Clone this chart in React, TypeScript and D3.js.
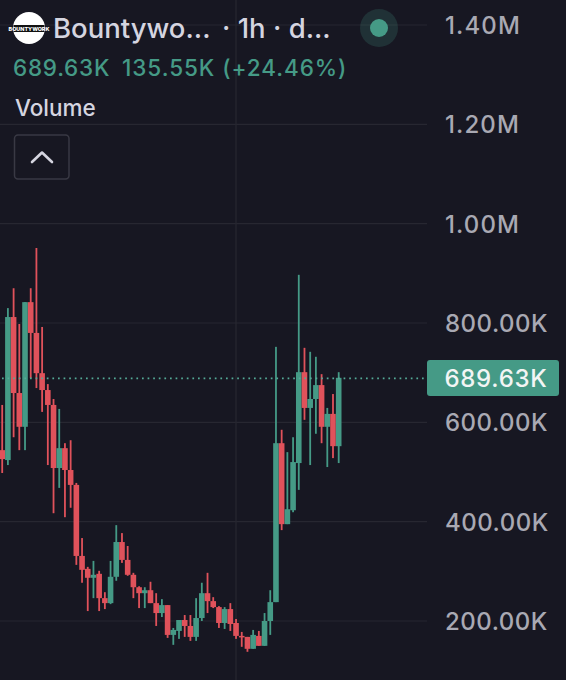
import React from "react";
import * as d3 from "d3";

const WIDTH = 566;
const HEIGHT = 680;

// Prices in thousands.
const opens = [544,524,812,659,591,842,780,699,665,635,508,548,504,474,331,305,287,295,246,236,289,359,323,293,268,256,262,236,216,232,172,180,202,190,168,206,256,240,228,196,224,196,170,168,144,170,150,200,238,558,395,423,518,701,629,647,675,591,617,552];
const highs = [635,830,870,798,842,870,951,792,677,647,627,558,564,478,367,309,321,301,258,321,393,377,351,297,270,268,279,256,244,232,186,202,212,212,246,277,297,248,230,228,236,204,178,168,182,180,216,262,752,585,540,570,897,750,742,732,697,629,657,701];
const lows = [498,514,570,544,544,689,669,621,514,417,468,409,428,313,277,220,246,220,224,234,281,317,291,246,226,226,236,190,208,166,152,164,168,160,160,200,216,226,186,184,180,164,148,138,144,150,150,172,238,383,395,419,464,605,514,577,558,510,528,518];
const closes = [526,812,659,591,842,780,699,665,635,508,548,504,474,331,303,287,293,246,236,289,359,323,293,268,256,262,236,216,232,172,182,202,190,168,206,256,240,228,196,224,194,170,168,144,172,150,200,238,558,395,425,520,701,629,647,675,591,617,552,689.63];

const axisTicks = [200, 400, 600, 800, 1000, 1200, 1400];
const axisLabels = ["200.00K", "400.00K", "600.00K", "800.00K", "1.00M", "1.20M", "1.40M"];
const lastPrice = 689.63;
const lastLabel = "689.63K";
const titleName = "Bountywo...";
const titleRest = "· 1h · d...";
const statPrice = "689.63K";
const statChange = "135.55K (+24.46%)";
const indicatorName = "Volume";
const logoText = "BOUNTYWORK";

const BG = "#171722";
const GREEN = "#459a86";
const RED = "#e0525b";
const GRID = "#272731";
const FONT = "Inter, 'Noto Sans', sans-serif";

const y = d3.scaleLinear().domain([200, 1400]).range([621, 25]);
const x = d3.scaleLinear().domain([0, opens.length - 1]).range([2.2, 338.7]);

export default function App() {
  return (
    <svg
      width={WIDTH}
      height={HEIGHT}
      viewBox={`0 0 ${WIDTH} ${HEIGHT}`}
      style={{ position: "fixed", left: 0, top: 0, display: "block", background: BG }}
      fontFamily={FONT}
      fontWeight={500}
    >
      {axisTicks.map((t) => (
        <line key={t} x1={0} x2={427} y1={y(t)} y2={y(t)} stroke={GRID} strokeWidth={1.2} />
      ))}
      <line x1={236} x2={236} y1={0} y2={HEIGHT} stroke={GRID} strokeWidth={1.2} />

      {opens.map((o, i) => {
        const c = closes[i];
        const col = c >= o ? GREEN : RED;
        const top = y(Math.max(o, c));
        const bot = y(Math.min(o, c));
        return (
          <g key={i} fill={col}>
            <rect x={x(i) - 0.9} width={1.8} y={y(highs[i])} height={y(lows[i]) - y(highs[i])} />
            <rect x={x(i) - 2.8} width={5.6} y={top} height={Math.max(bot - top, 1.5)} />
          </g>
        );
      })}

      <line
        x1={2}
        x2={425}
        y1={y(lastPrice) + 0.5}
        y2={y(lastPrice) + 0.5}
        stroke="#55ab97"
        strokeWidth={1.7}
        strokeDasharray="1.7 3.9"
      />

      {axisTicks.map((t, i) => (
        <text
          key={t}
          x={445}
          y={y(t) + 9}
          fontSize={24}
          fill="#a9a9b3"
          letterSpacing={axisLabels[i].endsWith("M") ? 1.1 : 0.5}
        >
          {axisLabels[i]}
        </text>
      ))}

      <rect x={427} y={360} width={132} height={36} rx={3} fill={GREEN} />
      <text x={444.5} y={387} fontSize={24} fill="#f2f5f4" letterSpacing={0.7}>
        {lastLabel}
      </text>

      <circle cx={29} cy={28} r={16} fill="#ffffff" />
      <rect x={13.5} y={25} width={31} height={7} fill="#111111" />
      <text x={29} y={31} textAnchor="middle" fontSize={5.4} fontWeight={800} fill="#ffffff">
        {logoText}
      </text>

      <text x={53} y={38} fontSize={27.5} fill="#d5d5e0">{titleName}</text>
      <text x={222} y={38} fontSize={27.5} fill="#d5d5e0">{titleRest}</text>

      <circle cx={379} cy={28} r={19} fill={GREEN} opacity={0.2} />
      <circle cx={379} cy={28} r={9} fill={GREEN} />

      <text x={13} y={76} fontSize={22.5} fill={GREEN} letterSpacing={0.75}>{statPrice}</text>
      <text x={122} y={76} fontSize={22.5} fill={GREEN} letterSpacing={0.95}>{statChange}</text>

      <text x={15} y={116} fontSize={22.5} fill="#d5d5e0">{indicatorName}</text>

      <rect x={14.5} y={135} width={54.5} height={44} rx={3.5} fill="none" stroke="#393944" strokeWidth={1.5} />
      <path
        d={d3.line()([[32, 162], [42, 152.5], [52, 162]]) ?? ""}
        fill="none"
        stroke="#d5d5e0"
        strokeWidth={2.6}
        strokeLinecap="round"
        strokeLinejoin="round"
      />
    </svg>
  );
}
